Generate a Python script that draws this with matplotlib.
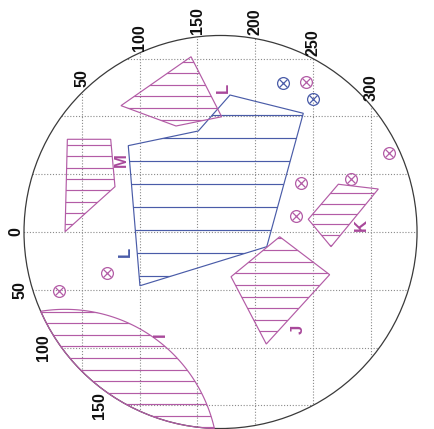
import numpy as np
import matplotlib
matplotlib.use("Agg")
import matplotlib.pyplot as plt
from matplotlib.patches import Polygon, Circle
from matplotlib import font_manager

# ---------------- data ----------------
circle_center = (170.0, 0.0)
circle_radius = 170.0

x_ticks = [50, 100, 150, 200, 250, 300]
y_ticks = [0, 50, 100, 150]
x_tick_labels = ["50", "100", "150", "200", "250", "300"]
y_tick_labels = ["0", "50", "100", "150"]

region_ML = [(90.2, -74.7), (150.8, -87.4), (178.2, -118.5), (241.6, -102.7),
             (210.0, 12.7), (100.3, 46.5)]
region_top = [(144.5, -151.6), (171.0, -99.7), (131.5, -91.7), (83.9, -109.3)]
region_left = [(37.5, -80.2), (75.0, -80.2), (78.7, -39.2), (35.5, -0.3)]
region_J = [(221.2, 4.1), (264.4, 36.9), (209.6, 96.9), (179.1, 38.7)]
region_K = [(271.9, -41.3), (306.5, -37.2), (265.6, 12.7), (245.9, -11.0)]
region_I_center = (35.5, 199.4)
region_I_radius = 132.5

pink_points_x = [243.9, 316.0, 239.4, 282.6, 235.3, 72.1, 30.5]
pink_points_y = [-130.0, -68.6, -42.6, -45.6, -14.1, 35.7, 51.0]
blue_points_x = [224.3, 249.7]
blue_points_y = [-128.6, -114.8]

label_text = ["M", "L", "L", "I", "J", "K"]
label_x = [84.5, 87.4, 172.4, 117.6, 237.6, 292.1]
label_y = [-62.3, 17.0, -124.3, 88.5, 83.9, -6.1]
label_is_blue = [False, True, False, False, False, False]

# ---------------- layout / style ----------------
PINK = "#b35ca6"
BLUE = "#4a5ca8"
GRID = "#8a8a8a"
LW = 0.85

top_label_y = [-133.2, -168.3, -182.5, -181.9, -163.9, -124.6]
left_label_x = [-6.9, -3.5, 16.7, 65.7]

names = {f.name for f in font_manager.fontManager.ttflist}
if "Liberation Sans Narrow" in names:
    FONT = "Liberation Sans Narrow"
    TICK_FS, LET_FS = 13, 13
else:
    FONT = "Liberation Sans"
    TICK_FS, LET_FS = 11.5, 12

fig = plt.figure(figsize=(4.34, 4.29), dpi=100)
ax = fig.add_axes([0, 0, 1, 1])
S = 1.156  # pixels per data unit
ax.set_xlim(-24 / S, (434 - 24) / S)
ax.set_ylim((429 - 232) / S, -232 / S)
ax.axis("off")

main = Circle(circle_center, circle_radius, fill=False, edgecolor="#3a3a3a", lw=0.9, zorder=3)
ax.add_patch(main)
clipc = Circle(circle_center, circle_radius, transform=ax.transData)

# grid
for xv in x_ticks:
    l, = ax.plot([xv, xv], [-200, 200], color=GRID, lw=0.8, ls=(0, (1, 1.6)), zorder=1)
    l.set_clip_path(clipc)
for yv in [-150, -100, -50] + y_ticks:
    l, = ax.plot([-10, 350], [yv, yv], color=GRID, lw=0.8, ls=(0, (1, 1.6)), zorder=1)
    l.set_clip_path(clipc)


def hatched(verts, color, y0, step):
    poly = Polygon(verts, closed=True, fill=False, edgecolor=color, lw=LW, zorder=4)
    ax.add_patch(poly)
    xs = [v[0] for v in verts]
    ys = [v[1] for v in verts]
    k0 = int(np.ceil((min(ys) - y0) / step))
    k1 = int(np.floor((max(ys) - y0) / step))
    for k in range(k0, k1 + 1):
        y = y0 + k * step
        ln, = ax.plot([min(xs) - 1, max(xs) + 1], [y, y], color=color, lw=LW, zorder=4)
        ln.set_clip_path(poly)


hatched(region_ML, BLUE, -101.4, 19.9)
hatched(region_top, PINK, -147.3, 10.0)
hatched(region_left, PINK, -75.3, 9.8)
hatched(region_J, PINK, 15.6, 10.05)
hatched(region_K, PINK, -33.5, 8.95)

# region I: intersection of main circle and another circle
t = np.linspace(0, 2 * np.pi, 2000)
cx, cy = region_I_center
ax_pts = np.c_[cx + region_I_radius * np.cos(t), cy + region_I_radius * np.sin(t)]
mx, my = circle_center
m_pts = np.c_[mx + circle_radius * np.cos(t), my + circle_radius * np.sin(t)]
in_main = (ax_pts[:, 0] - mx) ** 2 + (ax_pts[:, 1] - my) ** 2 <= circle_radius ** 2
in_I = (m_pts[:, 0] - cx) ** 2 + (m_pts[:, 1] - cy) ** 2 <= region_I_radius ** 2
pts = np.vstack([ax_pts[in_main], m_pts[in_I]])
cen = pts.mean(axis=0)
order = np.argsort(np.arctan2(pts[:, 1] - cen[1], pts[:, 0] - cen[0]))
hatched([tuple(p) for p in pts[order]], PINK, 79.0, 10.0)

# markers
def otimes(xs, ys, color):
    ax.plot(xs, ys, ls="none", marker="o", ms=8.5, mfc="none", mec=color, mew=0.9, zorder=5)
    ax.plot(xs, ys, ls="none", marker="x", ms=5.2, mec=color, mew=0.9, zorder=5)

otimes(pink_points_x, pink_points_y, PINK)
otimes(blue_points_x, blue_points_y, BLUE)

# region labels
for txt, x, y, b in zip(label_text, label_x, label_y, label_is_blue):
    ax.text(x, y, txt, rotation=90, ha="center", va="center", fontsize=LET_FS,
            fontweight="bold", color=BLUE if b else "#a8489a", family=[FONT, "DejaVu Sans"], zorder=6)

# tick labels
for v, lab, y in zip(x_ticks, x_tick_labels, top_label_y):
    ax.text(v, y, lab, rotation=90, ha="center", va="center", fontsize=TICK_FS,
            fontweight="bold", color="#111111", family=[FONT, "DejaVu Sans"])
for v, lab, x in zip(y_ticks, y_tick_labels, left_label_x):
    ax.text(x, v, lab, rotation=90, ha="center", va="center", fontsize=TICK_FS,
            fontweight="bold", color="#111111", family=[FONT, "DejaVu Sans"])

fig.savefig("out.png", dpi=100, facecolor="white")
